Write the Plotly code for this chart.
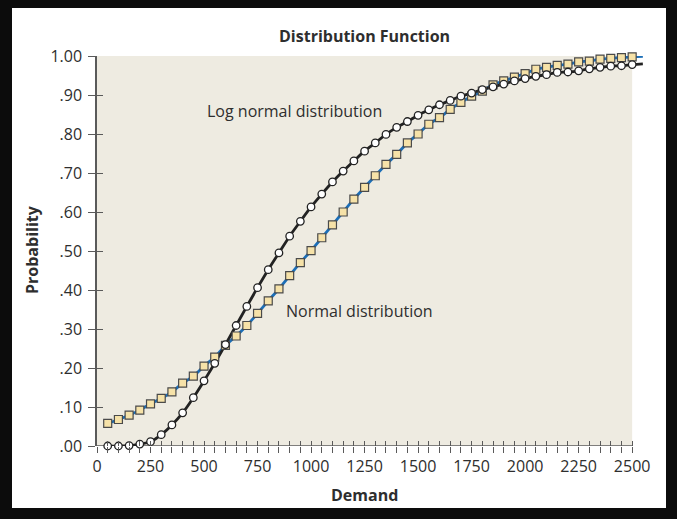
import plotly.graph_objects as go

# ---- data ----
demand = [50, 100, 150, 200, 250, 300, 350, 400, 450, 500,
          550, 600, 650, 700, 750, 800, 850, 900, 950, 1000,
          1050, 1100, 1150, 1200, 1250, 1300, 1350, 1400, 1450, 1500,
          1550, 1600, 1650, 1700, 1750, 1800, 1850, 1900, 1950, 2000,
          2050, 2100, 2150, 2200, 2250, 2300, 2350, 2400, 2450, 2500]

normal_p = [0.058, 0.068, 0.079, 0.092, 0.108, 0.122, 0.139, 0.161, 0.179, 0.205,
            0.228, 0.258, 0.282, 0.309, 0.340, 0.372, 0.403, 0.437, 0.470, 0.501,
            0.534, 0.567, 0.600, 0.633, 0.663, 0.693, 0.722, 0.748, 0.777, 0.800,
            0.825, 0.842, 0.863, 0.881, 0.897, 0.910, 0.926, 0.936, 0.946, 0.955,
            0.966, 0.971, 0.976, 0.979, 0.985, 0.987, 0.992, 0.994, 0.996, 0.998]

lognormal_p = [0.000, 0.000, 0.001, 0.005, 0.011, 0.029, 0.054, 0.085, 0.124, 0.167,
               0.212, 0.260, 0.309, 0.358, 0.406, 0.452, 0.495, 0.538, 0.576, 0.613,
               0.646, 0.677, 0.705, 0.731, 0.756, 0.777, 0.799, 0.817, 0.832, 0.848,
               0.862, 0.875, 0.886, 0.897, 0.905, 0.914, 0.921, 0.928, 0.936, 0.942,
               0.948, 0.952, 0.958, 0.959, 0.962, 0.967, 0.971, 0.974, 0.975, 0.978]

# line continuation past the last marker
tail_demand = [2550]
tail_normal = [0.999]
tail_lognormal = [0.980]

x_tickvals = list(range(0, 2501, 50))
x_ticktext = [str(v) if v % 250 == 0 else "" for v in x_tickvals]
y_tickvals = [0.0, 0.1, 0.2, 0.3, 0.4, 0.5, 0.6, 0.7, 0.8, 0.9, 1.0]
y_ticktext = [".00", ".10", ".20", ".30", ".40", ".50", ".60", ".70", ".80", ".90", "1.00"]

title_text = "Distribution Function"
x_title = "Demand"
y_title = "Probability"
label_lognormal = "Log normal distribution"
label_normal = "Normal distribution"

# ---- styling ----
FONT = "Open Sans"
TXT = "#2e2e2e"
AXC = "#5a5a5a"
BEIGE = "#eeebe1"
BLUE = "#1c6fb8"
DARK = "#222222"
FRAME = "#0c0c0c"

XMAX = 2560
fig = go.Figure()

# lines
fig.add_trace(go.Scatter(x=demand + tail_demand, y=normal_p + tail_normal, mode="lines",
                         line=dict(color=BLUE, width=2.8, shape="spline"),
                         hoverinfo="skip", showlegend=False))
fig.add_trace(go.Scatter(x=demand + tail_demand, y=lognormal_p + tail_lognormal, mode="lines",
                         line=dict(color=DARK, width=2.8, shape="spline"),
                         hoverinfo="skip", showlegend=False))
# markers
fig.add_trace(go.Scatter(x=demand, y=normal_p, mode="markers", name="Normal distribution",
                         marker=dict(symbol="square", size=8, color="#f6e2a8",
                                     line=dict(color="#4a4a4a", width=1.2)),
                         cliponaxis=False, showlegend=False))
fig.add_trace(go.Scatter(x=demand, y=lognormal_p, mode="markers", name="Log normal distribution",
                         marker=dict(symbol="circle", size=7.5, color="white",
                                     line=dict(color=DARK, width=1.3)),
                         cliponaxis=False, showlegend=False))
# invisible trace for the overlay axes (inner half of the ticks)
fig.add_trace(go.Scatter(x=[0], y=[0], xaxis="x2", yaxis="y2", mode="markers",
                         marker=dict(opacity=0), hoverinfo="skip", showlegend=False))

fig.update_layout(
    width=677, height=519,
    margin=dict(l=97, r=677 - 97 - 548, t=56, b=73),
    paper_bgcolor=FRAME,
    plot_bgcolor="rgba(0,0,0,0)",
    font=dict(family=FONT, color=TXT, size=16),
    showlegend=False,
    xaxis=dict(range=[0, XMAX], tickvals=x_tickvals, ticktext=x_ticktext,
               ticks="outside", ticklen=6, tickwidth=1.2, tickcolor=AXC,
               showgrid=False, zeroline=False, showline=False,
               tickfont=dict(size=16, color=TXT, family=FONT)),
    yaxis=dict(range=[0, 1], tickvals=y_tickvals, ticktext=y_ticktext,
               ticks="outside", ticklen=7, tickwidth=1.2, tickcolor=AXC,
               ticklabelstandoff=3,
               showgrid=False, zeroline=False, showline=True, linecolor=AXC, linewidth=1.5,
               tickfont=dict(size=16, color=TXT, family=FONT)),
    xaxis2=dict(range=[0, XMAX], overlaying="x", anchor="y2", side="bottom",
                tickvals=x_tickvals, ticks="inside", ticklen=5, tickwidth=1.2, tickcolor=AXC,
                showticklabels=False, showgrid=False, zeroline=False, showline=False),
    yaxis2=dict(range=[0, 1], overlaying="y", anchor="x2", side="left",
                tickvals=y_tickvals, ticks="inside", ticklen=6, tickwidth=1.2, tickcolor=AXC,
                showticklabels=False, showgrid=False, zeroline=False, showline=False),
    shapes=[
        # white card
        dict(type="rect", xref="paper", yref="paper",
             x0=(12 - 97) / 548, x1=(666 - 97) / 548,
             y0=(446 - 508) / 390, y1=(446 - 8) / 390,
             fillcolor="white", line=dict(width=0), layer="below"),
        # beige plotting area
        dict(type="rect", xref="x", yref="y", x0=0, x1=2500, y0=0, y1=1,
             fillcolor=BEIGE, line=dict(width=0), layer="below"),
        # x axis line
        dict(type="line", xref="x", yref="y", x0=0, x1=2500, y0=0, y1=0,
             line=dict(color=AXC, width=1.5), layer="below"),
    ],
    annotations=[
        dict(text="<b>" + title_text + "</b>", xref="x", yref="paper", x=1250, y=(446 - 36) / 390,
             showarrow=False, font=dict(size=16, color=TXT, family=FONT), yanchor="middle"),
        dict(text="<b>" + x_title + "</b>", xref="x", yref="paper", x=1250, y=(446 - 495) / 390,
             showarrow=False, font=dict(size=16, color=TXT, family=FONT), yanchor="middle"),
        dict(text="<b>" + y_title + "</b>", xref="paper", yref="paper", x=(32 - 97) / 548,
             y=(446 - 250) / 390, textangle=-90, showarrow=False,
             font=dict(size=16, color=TXT, family=FONT), xanchor="center", yanchor="middle"),
        dict(text=label_lognormal, xref="x", yref="y", x=505, y=(446 - 111) / 390,
             xanchor="left", yanchor="middle", showarrow=False,
             font=dict(size=16, color=TXT, family=FONT)),
        dict(text=label_normal, xref="x", yref="y", x=872, y=(446 - 311) / 390,
             xanchor="left", yanchor="middle", showarrow=False,
             font=dict(size=16, color=TXT, family=FONT)),
    ],
)

page_css = ("document.body.style.margin='0';"
            "document.body.style.overflow='hidden';"
            "document.body.style.background='" + FRAME + "';")

fig.write_html("out.html", post_script=page_css, config={"displayModeBar": False})
